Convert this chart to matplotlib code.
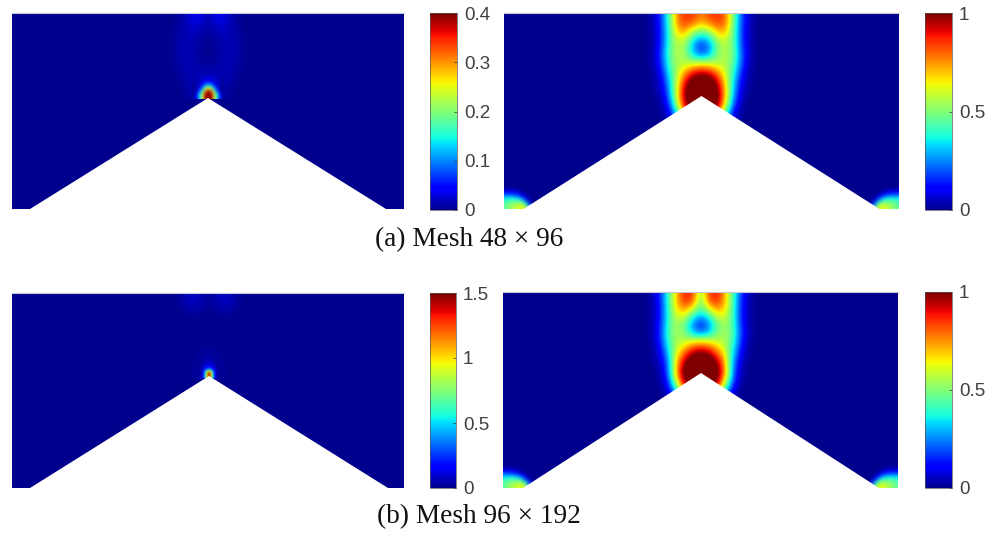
import numpy as np
import matplotlib
matplotlib.use('Agg')
import matplotlib.pyplot as plt
from matplotlib.cm import ScalarMappable
from matplotlib.colors import ListedColormap, Normalize

W, H = 997, 533

captions = ['(a) Mesh 48 × 96', '(b) Mesh 96 × 192']
ticks_a = [0, 0.1, 0.2, 0.3, 0.4]
labels_a = ['0', '0.1', '0.2', '0.3', '0.4']
ticks_b = [0, 0.5, 1, 1.5]
labels_b = ['0', '0.5', '1', '1.5']
ticks_c = [0, 0.5, 1]
labels_c = ['0', '0.5', '1']

# half fields, column 0 is the centre line of the wedge
# first row is just under the top edge, rows go down
plume_a = np.array([
    [.012, .040, .035, .012, .004, 0],
    [.008, .028, .028, .012, .004, 0],
    [.004, .014, .022, .014, .004, 0],
    [.002, .008, .018, .016, .006, 0],
    [.001, .004, .014, .016, .007, 0],
    [.001, .004, .014, .016, .007, 0],
    [.004, .006, .014, .014, .006, 0],
    [.012, .012, .014, .012, .004, 0],
    [.024, .020, .016, .008, .002, 0],
    [.030, .024, .012, .004, 0, 0],
    [.030, .024, .010, .002, 0, 0],
])
tip_a = np.array([
    [.022, .020, .018, .014, .012, .010],
    [.035, .032, .025, .018, .012, .009],
    [.060, .052, .036, .022, .012, .007],
    [.140, .110, .060, .026, .012, .005],
    [.270, .210, .110, .040, .012, .005],
    [.400, .320, .180, .080, .020, .004],
    [.460, .380, .230, .130, .040, .006],
    [.460, .380, .240, .130, .040, .006],
])
plume_b = np.array([
    [.76, .84, .86, .80, .46, .19, .04, 0],
    [.70, .78, .84, .78, .45, .18, .04, 0],
    [.50, .55, .72, .72, .44, .17, .03, 0],
    [.26, .35, .58, .61, .44, .17, .03, 0],
    [.14, .26, .50, .58, .45, .18, .03, 0],
    [.24, .32, .52, .58, .47, .20, .04, 0],
    [.60, .58, .56, .56, .44, .18, .03, 0],
    [.90, .86, .72, .58, .40, .14, .02, 0],
    [1.08, 1.05, .88, .62, .34, .10, .01, 0],
    [1.15, 1.13, .98, .66, .30, .08, .01, 0],
    [1.15, 1.15, 1.02, .68, .26, .05, 0, 0],
    [1.10, 1.10, 1.00, .62, .20, .02, 0, 0],
    [1.00, 1.00, .85, .45, .12, .01, 0, 0],
    [.80, .70, .60, .30, .05, 0, 0, 0],
])
plume_c = np.array([
    [.010, .060, .090, .050, .010],
    [.005, .050, .080, .050, .005],
    [0, .020, .030, .020, 0],
    [0, 0, 0, 0, 0],
    [0, 0, 0, 0, 0],
    [0, 0, 0, 0, 0],
    [.005, .002, 0, 0, 0],
    [.020, .010, 0, 0, 0],
    [.040, .025, .005, 0, 0],
    [.050, .030, .010, 0, 0],
    [.050, .030, .010, 0, 0],
])
tip_c = np.array([
    [.05, .04, .03, .02, .015, .01],
    [.07, .06, .04, .03, .02, .01],
    [.09, .08, .06, .04, .02, .01],
    [.13, .12, .09, .05, .025, .01],
    [.20, .18, .13, .07, .03, .01],
    [.38, .32, .20, .10, .03, .01],
    [.90, .72, .38, .14, .04, .01],
    [1.45, 1.00, .48, .18, .05, .01],
    [1.45, 1.00, .50, .18, .05, .01],
    [1.45, 1.00, .50, .18, .05, .01],
])
plume_d = np.array([
    [.50, .84, .90, .72, .43, .17, .04, 0],
    [.45, .82, .86, .72, .43, .16, .03, 0],
    [.42, .60, .74, .68, .42, .15, .03, 0],
    [.26, .35, .58, .60, .42, .15, .03, 0],
    [.13, .25, .45, .55, .44, .16, .03, 0],
    [.26, .32, .50, .55, .45, .18, .03, 0],
    [.68, .64, .58, .56, .42, .16, .02, 0],
    [.92, .88, .74, .60, .37, .12, .01, 0],
    [1.10, 1.06, .90, .68, .31, .08, .01, 0],
    [1.20, 1.15, 1.02, .74, .26, .05, 0, 0],
    [1.15, 1.15, 1.05, .76, .24, .03, 0, 0],
    [1.05, 1.05, 1.00, .62, .18, .02, 0, 0],
    [.90, .90, .80, .40, .10, 0, 0, 0],
    [.60, .50, .40, .15, .02, 0, 0, 0],
])
# bottom corners of the right hand fields, column 0 at the side wall
corner = np.array([
    [0, 0, 0, 0, 0, 0, 0],
    [.05, .05, .04, .02, 0, 0, 0],
    [.13, .13, .12, .08, .03, 0, 0],
    [.24, .24, .22, .18, .10, .03, 0],
    [.35, .36, .36, .34, .25, .10, .01],
    [.42, .45, .46, .47, .42, .24, .05],
    [.45, .50, .53, .56, .56, .42, .15],
    [.46, .52, .56, .60, .62, .55, .30],
])

wedge_a = ([-178, 0, 178], [196, 85, 196])
wedge_b = ([-178, 0, 178], [196, 83, 196])
wedge_c = ([-179, 0, 179], [195, 83, 195])
wedge_d = ([-178, 0, 178], [196, 81, 196])

jet_map = ListedColormap(plt.get_cmap('jet')(np.linspace(0.012, 1, 256)))


def px_axes(x0, y0, x1, y1):
    return fig.add_axes([x0 / W, 1 - y1 / H, (x1 - x0) / W, (y1 - y0) / H])


def mirrored(half):
    return np.hstack([half[:, :0:-1], half])


def put(ax, half, step, y_first, vmax):
    rows, cols = half.shape
    x_edge = (cols - 0.5) * step
    ax.imshow(mirrored(half), cmap=jet_map, vmin=0, vmax=vmax, aspect='auto',
              interpolation='bicubic',
              extent=[-x_edge, x_edge, y_first + (rows - 0.5) * step, y_first - step / 2])


def put_corners(ax, half, xl, xr, y_bottom, vmax):
    rows, cols = half.shape
    x_step, y_step = 4, 3
    top = y_bottom - rows * y_step
    ax.imshow(half, cmap=jet_map, vmin=0, vmax=vmax, aspect='auto', interpolation='bicubic',
              extent=[xl, xl + cols * x_step, y_bottom, top])
    ax.imshow(half[:, ::-1], cmap=jet_map, vmin=0, vmax=vmax, aspect='auto', interpolation='bicubic',
              extent=[xr - cols * x_step, xr, y_bottom, top])


def finish(ax, xlim, height, wedge):
    ax.fill(wedge[0], wedge[1], color='white', lw=0, zorder=5)
    ax.set_xlim(*xlim)
    ax.set_ylim(height, 0)
    ax.set_xticks([])
    ax.set_yticks([])
    for name in ['left', 'right', 'bottom']:
        ax.spines[name].set_visible(False)
    ax.spines['top'].set_color('#c4c4d4')
    ax.spines['top'].set_linewidth(0.8)
    ax.set_facecolor(jet_map(0))


def bar(box, vmax, ticks, labels):
    cax = px_axes(*box)
    cb = fig.colorbar(ScalarMappable(Normalize(0, vmax), jet_map), cax=cax)
    cb.set_ticks(ticks, labels=labels)
    cb.ax.tick_params(direction='in', length=2, width=0.5, color='#333333', labelsize=13.5,
                      labelcolor='#404040', pad=5)
    cb.outline.set_edgecolor('#555555')
    cb.outline.set_linewidth(0.5)
    for t in cb.ax.get_yticklabels():
        t.set_family('Liberation Sans')


fig = plt.figure(figsize=(W / 100, H / 100), dpi=100)

ax1 = px_axes(12, 13, 404, 209)
put(ax1, plume_a, 8, 2, 0.4)
put(ax1, tip_a, 3, 64, 0.4)
finish(ax1, (-196, 196), 196, wedge_a)
bar((430, 13, 457, 210), 0.4, ticks_a, labels_a)

ax2 = px_axes(504, 13, 899, 209)
put(ax2, plume_b, 8, 2, 1)
put_corners(ax2, corner, -197.5, 197.5, 196, 1)
finish(ax2, (-197.5, 197.5), 196, wedge_b)
bar((925, 13, 952, 210), 1, ticks_c, labels_c)

ax3 = px_axes(12, 293, 404, 488)
put(ax3, plume_c, 8, 2, 1.5)
put(ax3, tip_c, 2, 66, 1.5)
finish(ax3, (-197, 195), 195, wedge_c)
bar((430, 293, 456, 488), 1.5, ticks_b, labels_b)

ax4 = px_axes(503, 292, 898, 488)
put(ax4, plume_d, 8, 2, 1)
put_corners(ax4, corner, -198, 197, 196, 1)
finish(ax4, (-198, 197), 196, wedge_d)
bar((925, 292, 952, 488), 1, ticks_c, labels_c)

fig.text(469.5 / W, 1 - 240 / H, captions[0], family='Liberation Serif', fontsize=19.6,
         color='#111111', ha='center', va='center')
fig.text(479 / W, 1 - 517 / H, captions[1], family='Liberation Serif', fontsize=19.6,
         color='#111111', ha='center', va='center')

fig.savefig('out.png', dpi=100)
